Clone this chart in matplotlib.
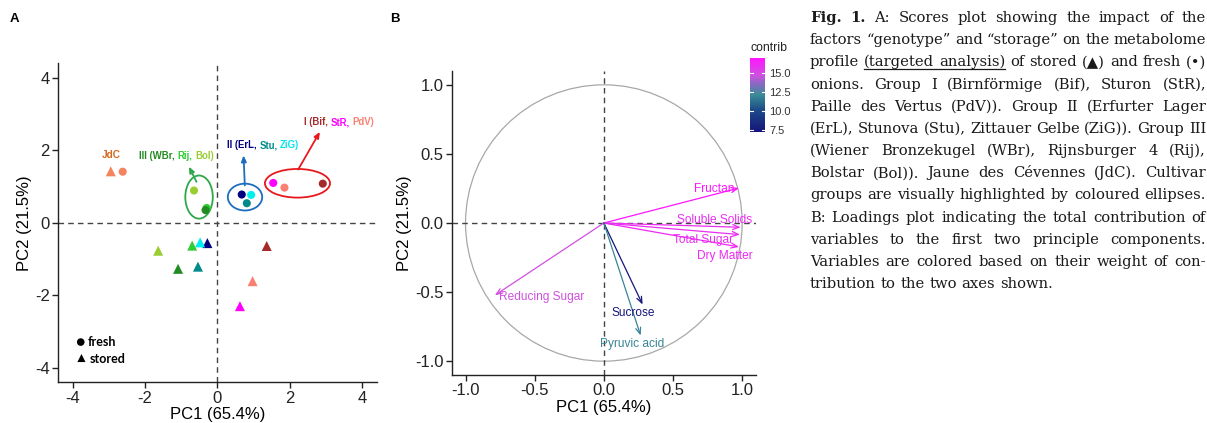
import numpy as np
import matplotlib
matplotlib.use('Agg')
import matplotlib.pyplot as plt
from matplotlib.patches import Ellipse, Circle
from matplotlib.colors import LinearSegmentedColormap, Normalize
from matplotlib.transforms import IdentityTransform
from matplotlib.cm import ScalarMappable
from matplotlib.lines import Line2D

plt.rcParams['font.family'] = ['Liberation Sans', 'DejaVu Sans']
plt.rcParams['axes.unicode_minus'] = False

# ---------------- Panel A data ----------------
cultivars = ['JdC', 'Rij', 'WBr', 'Bol', 'ErL', 'Stu', 'ZiG', 'Bif', 'StR', 'PdV']
cult_colors = ['#F5845E', '#32CD32', '#228B22', '#9ACD32', '#000080', '#008B8B',
               '#00F0F0', '#A52A2A', '#FF00FF', '#FA8072']
fresh_pc1 = [-2.62, -0.30, -0.33, -0.65, 0.67, 0.81, 0.93, 2.91, 1.54, 1.85]
fresh_pc2 = [1.41, 0.41, 0.35, 0.89, 0.78, 0.54, 0.77, 1.08, 1.10, 0.97]
stored_pc1 = [-2.95, -0.70, -1.09, -1.64, -0.28, -0.54, -0.48, 1.36, 0.62, 0.97]
stored_pc2 = [1.42, -0.63, -1.27, -0.77, -0.56, -1.21, -0.54, -0.64, -2.30, -1.61]

groups = ['I', 'II', 'III']
group_colors = ['#E8191E', '#1E6EBE', '#2EA84A']
ell_pc1 = [2.21, 0.76, -0.51]
ell_pc2 = [1.09, 0.71, 0.71]
ell_w = [1.80, 0.95, 0.76]
ell_h = [0.79, 0.74, 1.19]
arrow_from = [(2.23, 1.47), (0.755, 1.03), (-0.58, 1.13)]
arrow_to = [(2.83, 2.51), (0.72, 1.86), (-0.79, 1.55)]

group_labels = [
    [('I (Bif,', '#A52A2A'), ('StR,', '#FF00FF'), ('PdV)', '#FA8072')],
    [('II (ErL,', '#000080'), ('Stu,', '#008B8B'), ('ZiG)', '#00E5EE')],
    [('III (WBr,', '#228B22'), ('Rij,', '#32CD32'), ('Bol)', '#9ACD32')],
]
group_label_pos = [(3.35, 2.78), (1.26, 2.14), (-1.13, 1.85)]

# ---------------- Panel B data ----------------
variables = ['Fructan', 'Soluble Solids', 'Total Sugar', 'Dry Matter',
             'Reducing Sugar', 'Sucrose', 'Pyruvic acid']
load_pc1 = [0.977, 0.989, 0.984, 0.977, -0.788, 0.28, 0.266]
load_pc2 = [0.253, -0.031, -0.084, -0.173, -0.523, -0.59, -0.814]
contrib = [16.95, 16.0, 15.9, 16.2, 14.7, 7.28, 11.9]
var_label_pos = [(0.80, 0.248), (0.80, 0.024), (0.72, -0.12), (0.875, -0.24),
                 (-0.447, -0.535), (0.215, -0.653), (0.203, -0.877)]

caption_lines = [
    [('Fig.', 'bold', False), ('1.', 'bold', False), ('A:', 'normal', False), ('Scores', 'normal', False),
     ('plot', 'normal', False), ('showing', 'normal', False), ('the', 'normal', False),
     ('impact', 'normal', False), ('of', 'normal', False), ('the', 'normal', False)],
    'factors “genotype” and “storage” on the metabolome',
    [('profile', 'normal', False), ('(targeted', 'normal', True), ('analysis)', 'normal', True),
     ('of', 'normal', False), ('stored', 'normal', False), ('(▲)', 'normal', False),
     ('and', 'normal', False), ('fresh', 'normal', False), ('(•)', 'normal', False)],
    'onions. Group I (Birnförmige (Bif), Sturon (StR),',
    'Paille des Vertus (PdV)). Group II (Erfurter Lager',
    '(ErL), Stunova (Stu), Zittauer Gelbe (ZiG)). Group III',
    '(Wiener Bronzekugel (WBr), Rijnsburger 4 (Rij),',
    'Bolstar (Bol)). Jaune des Cévennes (JdC). Cultivar',
    'groups are visually highlighted by coloured ellipses.',
    'B: Loadings plot indicating the total contribution of',
    'variables to the first two principle components.',
    'Variables are colored based on their weight of con-',
    'tribution to the two axes shown.',
]

W, H = 1207, 423
fig = plt.figure(figsize=(W / 100, H / 100), dpi=100)
renderer = fig.canvas.get_renderer()
ID = IdentityTransform()

TICK_C = '#222222'
DASH_C = '#444444'


def style_axes(ax):
    for s in ['top', 'right']:
        ax.spines[s].set_visible(False)
    for s in ['left', 'bottom']:
        ax.spines[s].set_color('#222222')
        ax.spines[s].set_linewidth(1.0)
    ax.tick_params(direction='out', length=4, width=1, color='#222222',
                   labelsize=12, labelcolor=TICK_C, pad=2)


def text_width(s, **kw):
    t = fig.text(0, 0, s, **kw)
    w = t.get_window_extent(renderer).width
    t.remove()
    return w


# ---------------- Panel A ----------------
axA = fig.add_axes([58.3 / W, (H - 382.3) / H, 318.4 / W, 319 / H])
style_axes(axA)
axA.set_xlim(-4.4, 4.4)
axA.set_ylim(-4.4, 4.4)
axA.set_xticks([-4, -2, 0, 2, 4])
axA.set_yticks([-4, -2, 0, 2, 4])
axA.axhline(0, color=DASH_C, lw=1, ls=(0, (4, 3)), zorder=1)
axA.axvline(0, color=DASH_C, lw=1, ls=(0, (4, 3)), zorder=1)
axA.set_xlabel('PC1 (65.4%)', fontsize=12, labelpad=1)
axA.set_ylabel('PC2 (21.5%)', fontsize=12, labelpad=2)

for i in range(len(cultivars)):
    axA.scatter(stored_pc1[i], stored_pc2[i], marker='^', s=52, color=cult_colors[i],
                edgecolors='none', zorder=3)
for i in range(len(cultivars)):
    axA.scatter(fresh_pc1[i], fresh_pc2[i], marker='o', s=34, color=cult_colors[i],
                edgecolors='none', zorder=3)

for i in range(len(groups)):
    axA.add_patch(Ellipse((ell_pc1[i], ell_pc2[i]), ell_w[i], ell_h[i], fill=False,
                          ec=group_colors[i], lw=1.3, zorder=2))
    axA.annotate('', xy=arrow_to[i], xytext=arrow_from[i],
                 arrowprops=dict(arrowstyle='-|>,head_length=0.35,head_width=0.15',
                                 color=group_colors[i], lw=1.3, shrinkA=0, shrinkB=0))

lab_kw = dict(fontsize=6.9, fontweight='bold')
space_w = text_width('a a', **lab_kw) - text_width('aa', **lab_kw)
for pieces, (lx, ly) in zip(group_labels, group_label_pos):
    widths = [text_width(s, **lab_kw) for s, c in pieces]
    total = sum(widths) + space_w * (len(pieces) - 1)
    X, Y = axA.transData.transform((lx, ly))
    cur = X - total / 2
    for (s, c), w in zip(pieces, widths):
        fig.text(cur, Y, s, color=c, transform=ID, ha='left', va='center', **lab_kw)
        cur += w + space_w

axA.text(-2.95, 1.87, 'JdC', color='#D2691E', ha='center', va='center', fontsize=7.2,
         fontweight='bold')

# legend
axA.scatter(-3.78, -3.29, marker='o', s=30, color='black', edgecolors='none')
axA.scatter(-3.76, -3.73, marker='^', s=34, color='black', edgecolors='none')
axA.text(-3.58, -3.29, 'fresh', fontsize=9, fontweight='bold', family=['Lato', 'DejaVu Sans'],
         va='center', ha='left')
axA.text(-3.54, -3.75, 'stored', fontsize=9, fontweight='bold', family=['Lato', 'DejaVu Sans'],
         va='center', ha='left')

fig.text(14 / W, 1 - 19 / H, 'A', fontsize=9.5, fontweight='bold', ha='center', va='center')
fig.text(395 / W, 1 - 19 / H, 'B', fontsize=9.5, fontweight='bold', ha='center', va='center')

# ---------------- Panel B ----------------
axB = fig.add_axes([451.7 / W, (H - 375) / H, 304.3 / W, 304 / H])
style_axes(axB)
axB.set_xlim(-1.1, 1.1)
axB.set_ylim(-1.1, 1.1)
axB.set_xticks([-1.0, -0.5, 0.0, 0.5, 1.0])
axB.set_yticks([-1.0, -0.5, 0.0, 0.5, 1.0])
axB.xaxis.set_major_formatter(matplotlib.ticker.FormatStrFormatter('%.1f'))
axB.yaxis.set_major_formatter(matplotlib.ticker.FormatStrFormatter('%.1f'))
axB.set_xlabel('PC1 (65.4%)', fontsize=12, labelpad=1)
axB.set_ylabel('PC2 (21.5%)', fontsize=12, labelpad=2)
axB.add_patch(Circle((0, 0), 1.0, fill=False, ec='#A8A8A8', lw=0.9, zorder=1))
axB.axhline(0, color=DASH_C, lw=1, ls=(0, (4, 3)), zorder=1)
axB.axvline(0, color=DASH_C, lw=1, ls=(0, (4, 3)), zorder=1)

cmap = LinearSegmentedColormap.from_list('contrib', [
    (0.0, '#15157C'), (0.3, '#1D4C88'), (0.5, '#3A8C98'), (0.65, '#8A68C4'),
    (0.76, '#CE52DE'), (1.0, '#FF14FF')])
norm = Normalize(vmin=min(contrib), vmax=max(contrib))

for i, v in enumerate(variables):
    col = cmap(norm(contrib[i]))
    axB.annotate('', xy=(load_pc1[i], load_pc2[i]), xytext=(0, 0),
                 arrowprops=dict(arrowstyle='->,head_length=0.45,head_width=0.18',
                                 color=col, lw=0.9, shrinkA=0, shrinkB=0), zorder=3)
    lx, ly = var_label_pos[i]
    axB.text(lx, ly, v, color=col, fontsize=8.6, ha='center', va='center', zorder=4)

# colorbar
cax = fig.add_axes([750 / W, (H - 131.7) / H, 15 / W, 74 / H])
sm = ScalarMappable(norm=norm, cmap=cmap)
cb = fig.colorbar(sm, cax=cax, ticks=[7.5, 10.0, 12.5, 15.0])
cb.outline.set_visible(False)
cb.ax.set_yticklabels(['7.5', '10.0', '12.5', '15.0'])
cb.ax.tick_params(length=0, labelsize=8, labelcolor='#333333', pad=3)
for t in [7.5, 10.0, 12.5, 15.0]:
    cax.plot([0, 0.2], [t, t], color='white', lw=0.8, transform=cax.get_yaxis_transform())
    cax.plot([0.8, 1.0], [t, t], color='white', lw=0.8, transform=cax.get_yaxis_transform())
fig.text(750 / W, 1 - 48 / H, 'contrib', fontsize=8.8, ha='left', va='center', color='#222222')

# ---------------- Caption ----------------
cap_kw = dict(fontsize=10.6, family=['DejaVu Serif', 'DejaVu Sans'], color='#1a1a1a')
x0, x1 = 810.0, 1206.0
base0 = H - 22.0
step = 22.17
for li, line in enumerate(caption_lines):
    if isinstance(line, str):
        toks = [(w, 'normal', False) for w in line.split(' ')]
    else:
        toks = line
    widths = [text_width(t, fontweight=wt, **cap_kw) for t, wt, u in toks]
    y = base0 - li * step
    last = li == len(caption_lines) - 1
    if last:
        gap = text_width('a a', **cap_kw) - text_width('aa', **cap_kw)
    else:
        gap = (x1 - x0 - sum(widths)) / (len(toks) - 1)
    cur = x0
    ul = []
    for (t, wt, u), w in zip(toks, widths):
        fig.text(cur, y, t, transform=ID, ha='left', va='baseline', fontweight=wt, **cap_kw)
        if u:
            ul.append((cur, cur + w))
        cur += w + gap
    if ul:
        fig.add_artist(Line2D([ul[0][0], ul[-1][1]], [y - 2.5, y - 2.5], transform=ID,
                              color='#1a1a1a', lw=0.9))

fig.savefig('out.png', dpi=100)
